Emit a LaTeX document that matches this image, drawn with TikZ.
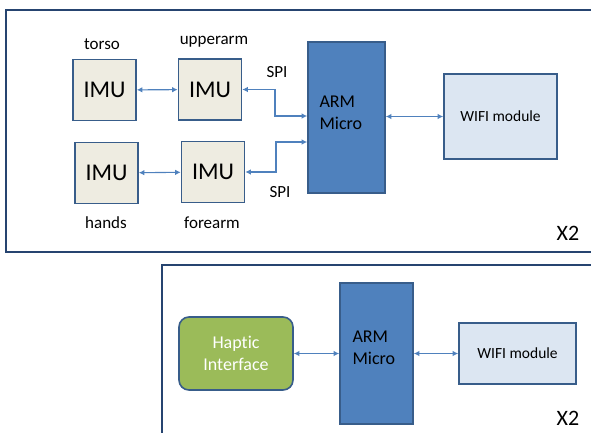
\documentclass[tikz,border=0pt]{standalone}
\usepackage{fontspec}
\setmainfont{Carlito}[Ligatures=CommonOff]
\usetikzlibrary{positioning, arrows.meta, calc}
\definecolor{FrameBlue}{RGB}{38,68,112}
\definecolor{EdgeBlue}{RGB}{56,93,138}
\definecolor{ArmBlue}{RGB}{79,129,189}
\definecolor{ImuFill}{RGB}{238,236,225}
\definecolor{WifiFill}{RGB}{220,230,242}
\definecolor{HapticGreen}{RGB}{155,187,89}

\begin{document}
\begin{tikzpicture}[x=1pt, y=-1pt, font=\fontsize{17}{20}\selectfont]
    \tikzset{
        imublock/.style={rectangle, draw=EdgeBlue, line width=1.6pt, fill=ImuFill,
            minimum width=63pt, minimum height=61pt, font=\fontsize{24}{28}\selectfont},
        armblock/.style={rectangle, draw=EdgeBlue, line width=1.6pt, fill=ArmBlue},
        armtext/.style={align=left, font=\fontsize{18}{22}\selectfont},
        wifiblock/.style={rectangle, draw=EdgeBlue, line width=1.6pt, fill=WifiFill,
            font=\fontsize{15.5}{18}\selectfont},
        hapticblock/.style={rectangle, rounded corners=10pt, draw=EdgeBlue, line width=1.6pt,
            fill=HapticGreen, text=white, align=center, minimum width=114pt,
            minimum height=73pt, font=\fontsize{18}{22}\selectfont},
        frame/.style={draw=FrameBlue, line width=2pt},
        link/.style={draw=ArmBlue, line width=1.1pt,
            {Latex[length=5.5pt,width=5.5pt]}-{Latex[length=5.5pt,width=5.5pt]}}
    }
    \useasboundingbox (0,0) rectangle (591,432);
    % upper unit
    \draw[frame] (593,10) -- (6,10) -- (6,252) -- (593,252);
    \node[imublock] (torso) at (104.5,90) {IMU};
    \node[imublock] (upper) at (210,89.5) {IMU};
    \node[imublock] (hands) at (106.5,173) {IMU};
    \node[imublock] (fore) at (213,172) {IMU};
    \node (torsolbl) at (102,44) {torso};
    \node (upperlbl) at (214,42) {upperarm};
    \node (handslbl) at (106,223) {hands};
    \node (forelbl) at (212,223) {forearm};
    \node[armblock, minimum width=77pt, minimum height=151pt] (arm) at (346.5,117.5) {};
    \node[armtext, anchor=west] (armtxt) at (316,113) {ARM\\Micro};
    \node[wifiblock, minimum width=113pt, minimum height=85pt] (wifi) at (500.5,116.5) {WIFI module};
    \coordinate (spiA) at (275,116);
    \coordinate (spiB) at (276,142);
    \node (spiAlbl) at (277,72) {SPI};
    \node (spiBlbl) at (280,192) {SPI};
    \draw[link] (torso) -- (upper);
    \draw[link] (hands) -- (fore);
    \draw[link] (upper.east) -| (spiA) -- (spiA -| arm.west);
    \draw[link] (fore.east) -| (spiB) -- (spiB -| arm.west);
    \draw[link] (arm.east |- wifi.west) -- (wifi.west);
    \node[font=\fontsize{22}{26}\selectfont] (xtop) at (568,233) {X2};
    % lower unit
    \draw[frame] (593,265) -- (162,265) -- (162,434);
    \node[hapticblock] (haptic) at (236,353.5) {Haptic\\Interface};
    \node[armblock, minimum width=73pt, minimum height=141pt] (armb) at (376.5,353.5) {};
    \node[armtext, anchor=west] (armbtxt) at (349,348) {ARM\\Micro};
    \node[wifiblock, minimum width=117pt, minimum height=61pt] (wifib) at (517.5,353.5) {WIFI module};
    \draw[link] (haptic) -- (armb);
    \draw[link] (armb) -- (wifib);
    \node[font=\fontsize{22}{26}\selectfont] (xbot) at (568,418) {X2};
\end{tikzpicture}
\end{document}
